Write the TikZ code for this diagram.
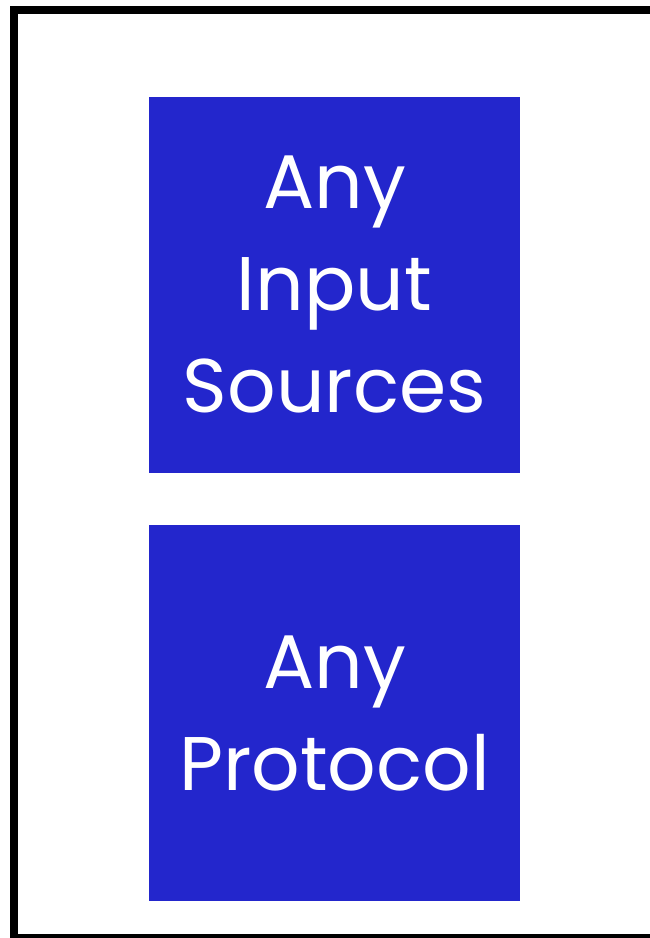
\documentclass[tikz,border=0pt]{standalone}
\usepackage{fontspec}
\setmainfont{Poppins}
\definecolor{boxblue}{HTML}{2326CC}
\begin{document}
\begin{tikzpicture}[x=1pt,y=-1pt,
  bluebox/.style={fill=boxblue, draw=none, minimum width=371pt, minimum height=376pt,
    text=white, align=center, font=\fontsize{76}{102}\selectfont, inner sep=0pt}]
\useasboundingbox (0,0) rectangle (650,938);
\begin{scope}
\clip (0,0) rectangle (650,938);
\draw[line width=8pt] (14,10) rectangle (700,938);
\end{scope}
\node[bluebox] (src) at (334.5,285) {Any\\Input\\Sources};
\node[bluebox] (proto) at (334.5,713) {Any\\Protocol};
\end{tikzpicture}
\end{document}
